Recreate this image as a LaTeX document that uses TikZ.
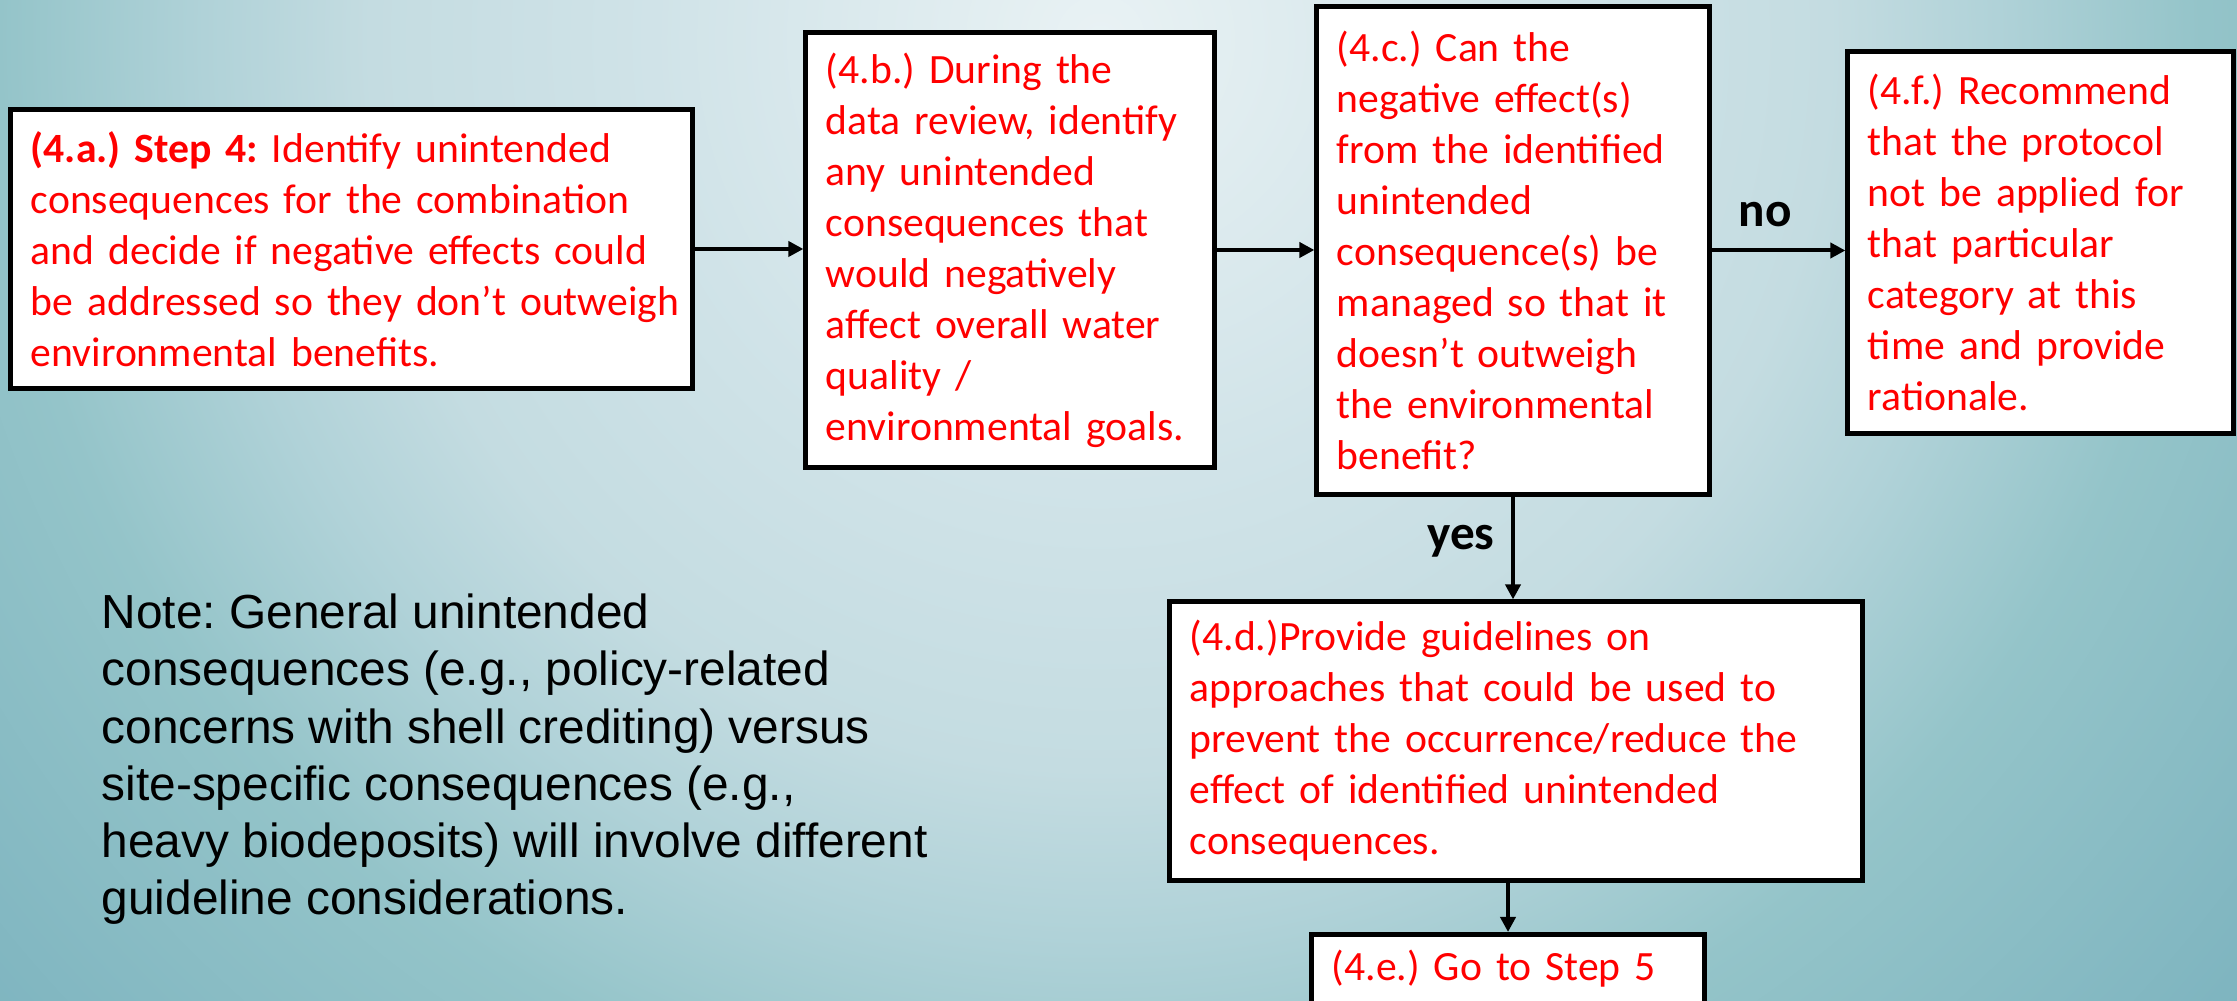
\documentclass[tikz,border=0pt]{standalone}
\usepackage{fontspec}
\setmainfont{Carlito}
\newfontfamily\notefont{Liberation Sans}
\usetikzlibrary{arrows.meta}
\definecolor{bga}{HTML}{E9F2F4}
\definecolor{bgb}{HTML}{D0E3E8}
\definecolor{bgc}{HTML}{C4DCE1}
\definecolor{bgd}{HTML}{B0D2D8}
\definecolor{bge}{HTML}{94C4C9}
\definecolor{bgf}{HTML}{7FB5C0}
\definecolor{bgg}{HTML}{78B0BC}
\definecolor{boxred}{HTML}{FF0000}
\pgfdeclareradialshading{bgshade}{\pgfpoint{0bp}{0bp}}{color(0bp)=(bga); color(7bp)=(bgb); color(11.4bp)=(bgc); color(14bp)=(bgd); color(17.2bp)=(bge); color(23bp)=(bgf); color(25bp)=(bgg); color(50bp)=(bgg)}
\newcommand\boxtext[1]{\leftskip=0.1cm\relax\hyphenpenalty=10000\relax #1\par}
\tikzset{
  stepbox/.style={draw=black, line width=0.05cm, fill=white, text=boxred, align=left,
    inner xsep=0.1cm, inner ysep=0.1cm, font=\fontsize{11.85pt}{14.5pt}\selectfont},
  flow/.style={line width=0.04cm, -{Triangle[length=0.15cm,width=0.15cm]}},
  answer/.style={font=\bfseries\fontsize{14pt}{16pt}\selectfont, text=black, inner sep=0pt},
  notetext/.style={font=\notefont\fontsize{13.6pt}{16.3pt}\selectfont, text=black, align=left, inner sep=0pt}
}
\begin{document}
\frenchspacing
\begin{tikzpicture}[x=0.01cm,y=-0.01cm]
\useasboundingbox (0,0) rectangle (2237,1001);
\clip (0,0) rectangle (2237,1001);
\shade[shading=bgshade] (1100,40) circle[radius=1600];

\node[stepbox, minimum width=6.81cm, minimum height=2.78cm, text width=6.61cm] (a) at (351.5,249)
  {\boxtext{\textbf{(4.a.) Step 4:} Identify unintended\\consequences for the combination\\and decide if negative effects could\\be addressed so they don’t outweigh\\environmental benefits.}};
\node[stepbox, minimum width=4.08cm, minimum height=4.34cm, text width=3.88cm] (b) at (1010,250)
  {\boxtext{(4.b.) During the\\data review, identify\\any unintended\\consequences that\\would negatively\\affect overall water\\quality /\\environmental goals.}};
\node[stepbox, minimum width=3.92cm, minimum height=4.87cm, text width=3.72cm] (c) at (1513,250.5)
  {\boxtext{(4.c.) Can the\\negative effect(s)\\from the identified\\unintended\\consequence(s) be\\managed so that it\\doesn’t outweigh\\the environmental\\benefit?}};
\node[stepbox, minimum width=3.85cm, minimum height=3.81cm, text width=3.65cm] (f) at (2040.5,242.5)
  {\boxtext{(4.f.) Recommend\\that the protocol\\not be applied for\\that particular\\category at this\\time and provide\\rationale.}};
\node[stepbox, minimum width=6.92cm, minimum height=2.78cm, text width=6.72cm] (d) at (1516,741)
  {\boxtext{(4.d.)Provide guidelines on\\approaches that could be used to\\prevent the occurrence/reduce the\\effect of identified unintended\\consequences.}};
\node[stepbox, anchor=north, minimum width=3.92cm, text width=3.72cm, inner ysep=0pt,
  text height=0.46cm, text depth=0.8cm] (e) at (1508,932) {\boxtext{(4.e.) Go to Step 5}};

\node[answer, anchor=base] (no) at (1765,227) {no};
\node[answer, anchor=base] (yes) at (1461,550) {yes};

\node[notetext, anchor=north west] (note) at (101,593)
  {Note: General unintended\\consequences (e.g., policy-related\\concerns with shell crediting) versus\\site-specific consequences (e.g.,\\heavy biodeposits) will involve different\\guideline considerations.};

\draw[flow] (a.east) -- (a.east -| b.west);
\draw[flow] (b.east) -- (b.east -| c.west);
\draw[flow] (c.east) -- (c.east -| f.west);
\draw[flow] (c.south) -- (c.south |- d.north);
\draw[flow] (e.north |- d.south) -- (e.north);
\end{tikzpicture}
\end{document}
